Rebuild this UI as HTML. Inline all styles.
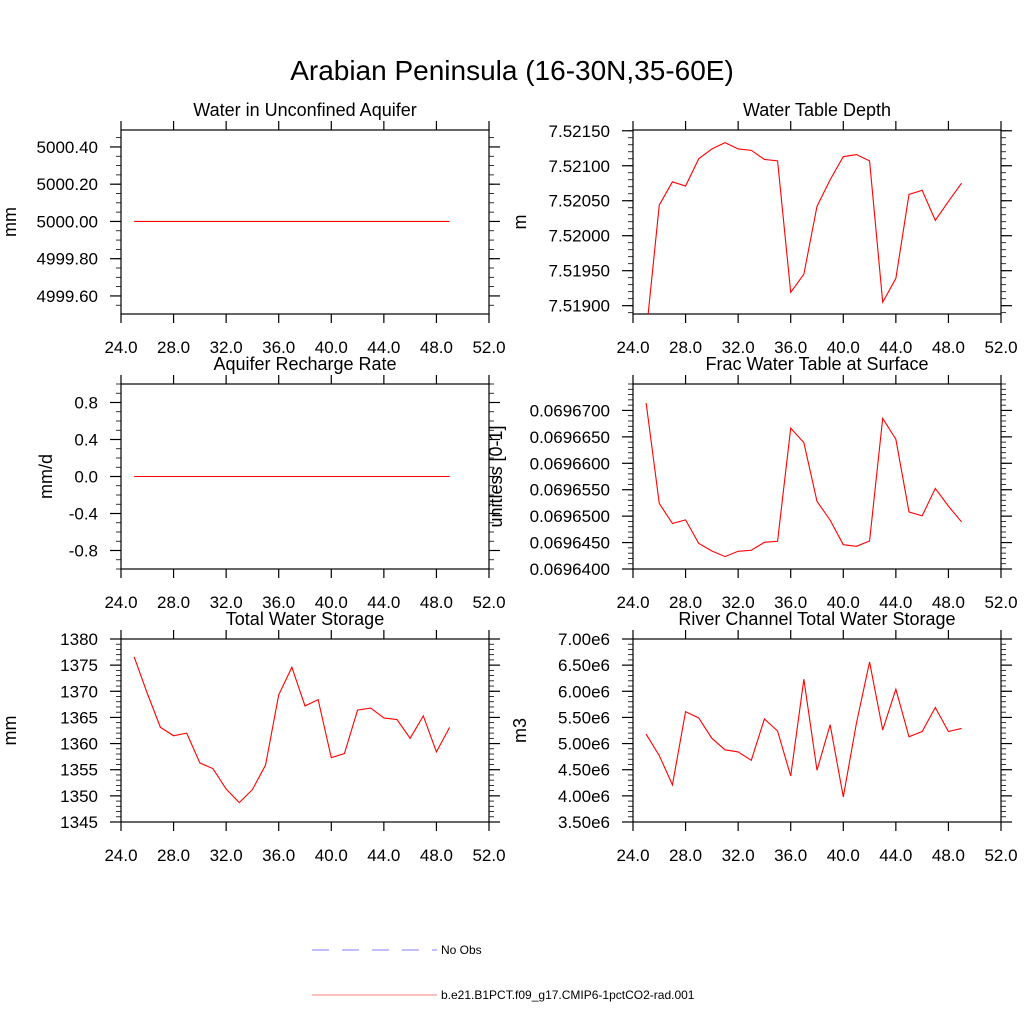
<!DOCTYPE html>
<html><head><meta charset="utf-8"><style>
body{margin:0;background:#fff}
svg text{font-family:"Liberation Sans",Arial,sans-serif;fill:#000}
</style></head><body>
<svg id="c" width="1024" height="1024" viewBox="0 0 1024 1024" xmlns="http://www.w3.org/2000/svg">
<text x="512" y="80" font-size="28" text-anchor="middle">Arabian Peninsula (16-30N,35-60E)</text>
<g>
<line x1="312" y1="950" x2="437" y2="950" stroke="#8080ff" stroke-width="1" stroke-dasharray="17,13"/>
<text x="441" y="954" font-size="12">No Obs</text>
<line x1="312" y1="995" x2="437" y2="995" stroke="#ff8080" stroke-width="1"/>
<text x="441" y="999" font-size="12">b.e21.B1PCT.f09_g17.CMIP6-1pctCO2-rad.001</text>
</g>
</svg>
<script>
const years=[25,26,27,28,29,30,31,32,33,34,35,36,37,38,39,40,41,42,43,44,45,46,47,48,49];
const xTicks=[24,28,32,36,40,44,48,52];
const xTickLabels=["24.0","28.0","32.0","36.0","40.0","44.0","48.0","52.0"];
const aquiferVals=[5000,5000,5000,5000,5000,5000,5000,5000,5000,5000,5000,5000,5000,5000,5000,5000,5000,5000,5000,5000,5000,5000,5000,5000,5000];
const aquiferTicks=[4999.6,4999.8,5000.0,5000.2,5000.4];
const aquiferLabels=["4999.60","4999.80","5000.00","5000.20","5000.40"];
const wtdVals=[7.5186,7.52044,7.52077,7.52071,7.52110,7.52124,7.52133,7.52124,7.52122,7.52109,7.52107,7.51919,7.51945,7.52042,7.52080,7.52113,7.52116,7.52107,7.51905,7.51939,7.52059,7.52065,7.52022,7.52049,7.52075];
const wtdTicks=[7.519,7.5195,7.52,7.5205,7.521,7.5215];
const wtdLabels=["7.51900","7.51950","7.52000","7.52050","7.52100","7.52150"];
const rechargeVals=[0,0,0,0,0,0,0,0,0,0,0,0,0,0,0,0,0,0,0,0,0,0,0,0,0];
const rechargeTicks=[-0.8,-0.4,0,0.4,0.8];
const rechargeLabels=["-0.8","-0.4","0.0","0.4","0.8"];
const fracVals=[0.0696714,0.0696524,0.0696486,0.0696493,0.06964485,0.0696434,0.06964235,0.06964335,0.06964355,0.06964505,0.06964525,0.06966665,0.0696639,0.0696528,0.06964925,0.0696446,0.0696443,0.0696453,0.0696685,0.06966455,0.0696508,0.06965005,0.06965525,0.0696519,0.0696489];
const fracTicks=[0.06964,0.069645,0.06965,0.069655,0.06966,0.069665,0.06967];
const fracLabels=["0.0696400","0.0696450","0.0696500","0.0696550","0.0696600","0.0696650","0.0696700"];
const twsVals=[1376.6,1369.6,1363.1,1361.5,1362.0,1356.3,1355.2,1351.3,1348.7,1351.2,1355.9,1369.3,1374.6,1367.2,1368.4,1357.3,1358.1,1366.4,1366.8,1364.9,1364.6,1361.0,1365.3,1358.4,1363.1];
const twsTicks=[1345,1350,1355,1360,1365,1370,1375,1380];
const twsLabels=["1345","1350","1355","1360","1365","1370","1375","1380"];
const riverVals=[5.18e6,4.77e6,4.21e6,5.61e6,5.49e6,5.10e6,4.88e6,4.84e6,4.68e6,5.47e6,5.24e6,4.38e6,6.23e6,4.49e6,5.36e6,3.98e6,5.39e6,6.56e6,5.26e6,6.04e6,5.13e6,5.23e6,5.69e6,5.23e6,5.29e6];
const riverTicks=[3.5e6,4e6,4.5e6,5e6,5.5e6,6e6,6.5e6,7e6];
const riverLabels=["3.50e6","4.00e6","4.50e6","5.00e6","5.50e6","6.00e6","6.50e6","7.00e6"];

const svg=document.getElementById('c');
const NS='http://www.w3.org/2000/svg';
function mk(tag,attrs,parent){const e=document.createElementNS(NS,tag);for(const k in attrs)e.setAttribute(k,attrs[k]);parent.appendChild(e);return e;}

function panel(id,title,ytitle,L,R,T,B,ymin,ymax,minorStep,ticks,labels,vals,ytx){
  const g=mk('g',{},svg);
  
  
  const xs=v=>L+(v-24)/(52-24)*(R-L);
  const ys=v=>B-(v-ymin)/(ymax-ymin)*(B-T);
  const cp=mk('clipPath',{id:'cp-'+id},g);
  mk('rect',{x:L,y:T,width:R-L,height:B-T},cp);
  const fr=mk('rect',{x:L,y:T,width:R-L,height:B-T,fill:'none',stroke:'#000','stroke-width':1.2},g);
  
  
  xTicks.forEach((t,i)=>{
    const x=xs(t);
    mk('line',{x1:x,y1:B,x2:x,y2:B+9,stroke:'#000','stroke-width':1.2},g);
    mk('line',{x1:x,y1:T,x2:x,y2:T-9,stroke:'#000','stroke-width':1.2},g);
    const tx=mk('text',{x:x,y:B+39,'font-size':17,'text-anchor':'middle'},g);
    tx.textContent=xTickLabels[i];
    
    
  });
  const span=ymax-ymin;
  const start=Math.ceil(ymin/minorStep-1e-6);
  const end=Math.floor(ymax/minorStep+1e-6);
  for(let k=start;k<=end;k++){
    const v=k*minorStep;
    const y=ys(v); if(y<T-0.5||y>B+0.5)continue;
    mk('line',{x1:L,y1:y,x2:L-5,y2:y,stroke:'#000','stroke-width':0.8},g);
    mk('line',{x1:R,y1:y,x2:R+5,y2:y,stroke:'#000','stroke-width':0.8},g);
  }
  ticks.forEach((t,i)=>{
    const y=ys(t); if(y<T-0.5||y>B+0.5)return;
    mk('line',{x1:L,y1:y,x2:L-11,y2:y,stroke:'#000','stroke-width':1.2},g);
    mk('line',{x1:R,y1:y,x2:R+11,y2:y,stroke:'#000','stroke-width':1.2},g);
    const tx=mk('text',{x:L-23,y:y+6,'font-size':17,'text-anchor':'end'},g);
    tx.textContent=labels[i];
    
    
  });
  const tt=mk('text',{x:(L+R)/2,y:T-14,'font-size':18,'text-anchor':'middle'},g);
  tt.textContent=title;
  
  
  const yt=mk('text',{x:ytx,y:(T+B)/2,'font-size':18,'text-anchor':'middle',transform:'rotate(-90 '+ytx+' '+((T+B)/2)+')'},g);
  yt.textContent=ytitle;
  
  
  const pts=years.map((yr,i)=>xs(yr).toFixed(2)+','+ys(vals[i]).toFixed(2)).join(' ');
  const pl=mk('polyline',{points:pts,fill:'none',stroke:'#ff0000','stroke-width':1.1,'clip-path':'url(#cp-'+id+')'},g);
  
  
}
panel('aquifer-water','Water in Unconfined Aquifer','mm',121,489,130,314,4999.503,5000.491,0.05,aquiferTicks,aquiferLabels,aquiferVals,16);
panel('water-table-depth','Water Table Depth','m',633,1001,130,314,7.518881,7.521511,0.0001,wtdTicks,wtdLabels,wtdVals,526);
panel('recharge-rate','Aquifer Recharge Rate','mm/d',121,489,384,569,-1.0,1.0,0.1,rechargeTicks,rechargeLabels,rechargeVals,52);
panel('frac-water-table','Frac Water Table at Surface','unitless [0-1]',633,1001,384,569,0.06964,0.069675,0.000001,fracTicks,fracLabels,fracVals,502);
panel('total-water-storage','Total Water Storage','mm',121,489,639,822,1345,1380,1,twsTicks,twsLabels,twsVals,16);
panel('river-storage','River Channel Total Water Storage','m3',633,1001,639,822,3.5e6,7e6,1e5,riverTicks,riverLabels,riverVals,526);
</script>
</body></html>
